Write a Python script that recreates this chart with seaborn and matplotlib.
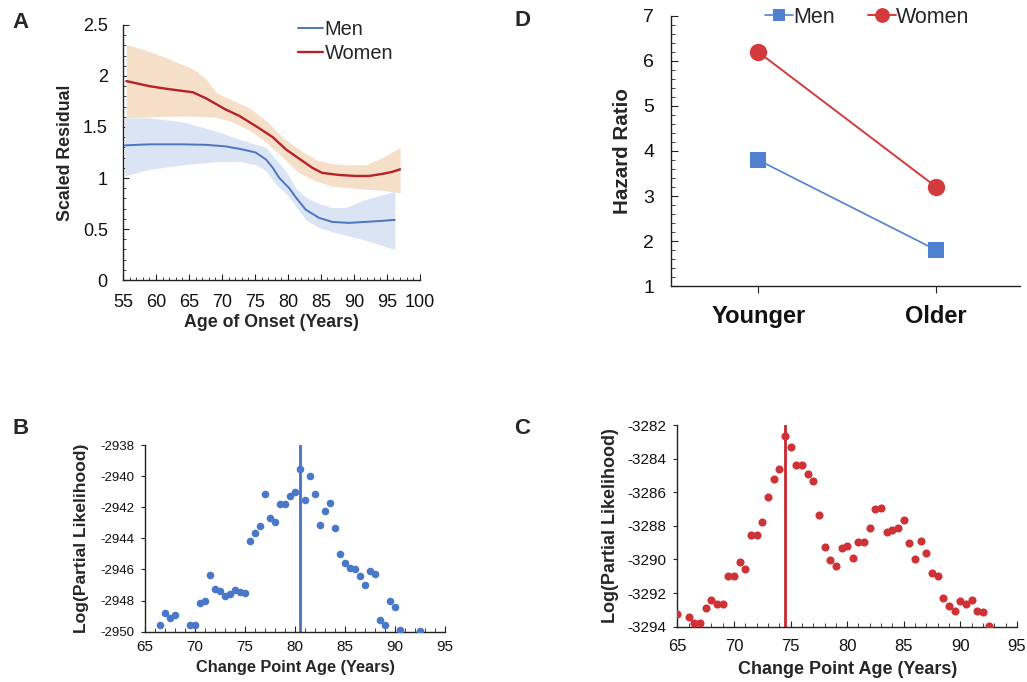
import numpy as np
import pandas as pd
import matplotlib
matplotlib.use("Agg")
import matplotlib.pyplot as plt
from matplotlib.ticker import MultipleLocator
import seaborn as sns

sns.set_style("white")
plt.rcParams['font.family'] = ['Liberation Sans', 'DejaVu Sans']
plt.rcParams['axes.unicode_minus'] = False

# panel A: scaled residual vs age of onset
women_age = [55.5, 59.0, 61.5, 65.6, 67.6, 70.6, 72.6, 75.1, 77.7, 79.7, 81.7, 83.7, 85.2, 87.7, 90.2, 92.3, 94.3, 95.8, 97.0]
women_res = [1.95, 1.90, 1.875, 1.84, 1.78, 1.67, 1.61, 1.51, 1.40, 1.28, 1.19, 1.10, 1.05, 1.03, 1.02, 1.02, 1.04, 1.06, 1.085]
women_hi_age = [55.5, 59.0, 61.5, 65.6, 67.6, 69.1, 71.6, 74.1, 76.7, 79.2, 81.7, 84.2, 86.7, 89.2, 91.8, 94.3, 97.0]
women_hi = [2.31, 2.24, 2.18, 2.07, 1.97, 1.84, 1.76, 1.69, 1.56, 1.40, 1.28, 1.18, 1.14, 1.13, 1.13, 1.20, 1.30]
women_lo_age = [55.5, 59.0, 64.1, 69.1, 72.6, 75.1, 77.7, 79.7, 81.7, 84.2, 86.7, 89.2, 91.8, 94.3, 97.0]
women_lo = [1.59, 1.60, 1.61, 1.595, 1.53, 1.43, 1.30, 1.17, 1.05, 0.97, 0.92, 0.905, 0.89, 0.88, 0.855]

men_age = [55.25, 59.0, 64.1, 67.6, 70.6, 73.1, 75.1, 76.7, 77.7, 78.7, 80.2, 81.2, 82.7, 84.7, 86.7, 89.2, 91.8, 94.3, 96.2]
men_res = [1.32, 1.33, 1.33, 1.325, 1.31, 1.28, 1.25, 1.18, 1.10, 1.00, 0.90, 0.81, 0.69, 0.61, 0.57, 0.56, 0.57, 0.58, 0.59]
men_hi_age = [55.25, 59.0, 64.1, 69.1, 72.6, 75.1, 76.7, 78.2, 79.7, 81.2, 82.7, 84.7, 86.7, 88.7, 91.8, 96.2]
men_hi = [1.59, 1.59, 1.55, 1.46, 1.38, 1.33, 1.30, 1.18, 1.07, 0.90, 0.81, 0.75, 0.71, 0.71, 0.79, 0.87]
men_lo_age = [55.25, 57.5, 61.5, 66.6, 71.6, 74.6, 76.7, 78.7, 80.7, 81.7, 83.7, 85.7, 88.7, 91.8, 96.2]
men_lo = [1.02, 1.07, 1.11, 1.15, 1.17, 1.15, 1.07, 0.89, 0.81, 0.64, 0.54, 0.49, 0.44, 0.39, 0.30]

# panel B: men change point likelihood
men_cp_age = [66.5, 67.0, 67.5, 68.0, 69.5, 70.0, 70.5, 71.0, 71.5, 72.0, 72.5, 73.0, 73.5, 74.0, 74.5, 75.0,
              75.5, 76.0, 76.5, 77.0, 77.5, 78.0, 78.5, 79.0, 79.5, 80.0, 80.5, 81.0, 81.5, 82.0, 82.5, 83.0,
              83.5, 84.0, 84.5, 85.0, 85.5, 86.0, 86.5, 87.0, 87.5, 88.0, 88.5, 89.0, 89.5, 90.0, 90.5, 92.5]
men_cp_ll = [-2949.57, -2948.8, -2949.12, -2948.95, -2949.55, -2949.55, -2948.16, -2948.05, -2946.38, -2947.24,
             -2947.39, -2947.69, -2947.58, -2947.34, -2947.45, -2947.54, -2944.17, -2943.64, -2943.19, -2941.13,
             -2942.71, -2942.97, -2941.81, -2941.81, -2941.3, -2941.0, -2939.57, -2941.56, -2939.97, -2941.17,
             -2943.12, -2942.22, -2941.75, -2943.34, -2945.03, -2945.61, -2945.89, -2946.0, -2946.44, -2946.98,
             -2946.08, -2946.27, -2949.23, -2949.55, -2948.03, -2948.39, -2949.91, -2949.96]
men_change_point = 80.5

# panel C: women change point likelihood
women_cp_age = [65.0, 66.0, 66.5, 67.0, 67.5, 68.0, 68.5, 69.0, 69.5, 70.0, 70.5, 71.0, 71.5, 72.0, 72.5, 73.0,
                73.5, 74.0, 74.5, 75.0, 75.5, 76.0, 76.5, 77.0, 77.5, 78.0, 78.5, 79.0, 79.5, 80.0, 80.5, 81.0,
                81.5, 82.0, 82.5, 83.0, 83.5, 84.0, 84.5, 85.0, 85.5, 86.0, 86.5, 87.0, 87.5, 88.0, 88.5, 89.0,
                89.5, 90.0, 90.5, 91.0, 91.5, 92.0, 92.5]
women_cp_ll = [-3293.25, -3293.44, -3293.8, -3293.8, -3292.87, -3292.39, -3292.67, -3292.67, -3291.0, -3291.0,
               -3290.13, -3290.55, -3288.54, -3288.54, -3287.79, -3286.3, -3285.21, -3284.62, -3282.63, -3283.31,
               -3284.4, -3284.4, -3284.93, -3285.35, -3287.35, -3289.24, -3290.05, -3290.37, -3289.34, -3289.2,
               -3289.9, -3288.98, -3288.96, -3288.15, -3286.98, -3286.96, -3288.37, -3288.25, -3288.13, -3287.67,
               -3289.04, -3290.0, -3288.88, -3289.62, -3290.83, -3291.0, -3292.31, -3292.77, -3293.05, -3292.47,
               -3292.67, -3292.43, -3293.05, -3293.15, -3293.94]
women_change_point = 74.5

# panel D: hazard ratios
age_groups = ['Younger', 'Older']
men_hr = [3.8, 1.8]
women_hr = [6.2, 3.2]

blue = '#4a76c0'
red = '#b8202a'

fig = plt.figure(figsize=(10.27, 6.82), dpi=100)
axA = fig.add_axes([0.1198, 0.5894, 0.289, 0.374])
axD = fig.add_axes([0.6533, 0.5806, 0.3398, 0.396])
axB = fig.add_axes([0.1412, 0.0738, 0.2921, 0.2737])
axC = fig.add_axes([0.6595, 0.0811, 0.3308, 0.2957])

for ax in [axA, axD, axB, axC]:
    sns.despine(ax=ax)
    ax.spines['left'].set_color('#222222')
    ax.spines['bottom'].set_color('#222222')
    ax.spines['left'].set_linewidth(1.0)
    ax.spines['bottom'].set_linewidth(1.0)

# ---- A ----
axA.fill_between(women_hi_age, women_hi, np.interp(women_hi_age, women_lo_age, women_lo),
                 color='#f5dfc9', lw=0, zorder=1)
axA.fill_between(men_hi_age, men_hi, np.interp(men_hi_age, men_lo_age, men_lo),
                 color='#dbe4f4', lw=0, zorder=1)
sns.lineplot(x=men_age, y=men_res, ax=axA, color=blue, lw=1.4, label='Men', zorder=3)
sns.lineplot(x=women_age, y=women_res, ax=axA, color=red, lw=1.7, label='Women', zorder=3)
axA.set_xlim(55, 100)
axA.set_ylim(0, 2.5)
axA.xaxis.set_major_locator(MultipleLocator(5))
axA.xaxis.set_minor_locator(MultipleLocator(1))
axA.yaxis.set_major_locator(MultipleLocator(0.5))
axA.yaxis.set_minor_locator(MultipleLocator(0.1))
axA.set_yticks([0, 0.5, 1, 1.5, 2, 2.5])
axA.set_yticklabels(['0', '0.5', '1', '1.5', '2', '2.5'])
axA.tick_params(which='both', direction='in', colors='#222222', labelcolor='#111111', labelsize=13, left=True, bottom=True)
axA.tick_params(which='major', length=4)
axA.tick_params(which='minor', length=2.5)
axA.tick_params(axis='x', which='major', pad=10)
axA.tick_params(axis='y', which='major', pad=11)
axA.set_xlabel('Age of Onset (Years)', fontsize=12.8, fontweight='bold', labelpad=2)
axA.set_ylabel('Scaled Residual', fontsize=12.8, fontweight='bold', labelpad=6)
axA.legend(loc='upper left', bbox_to_anchor=(0.589, 1.02), frameon=False, fontsize=14.4,
           borderaxespad=0, borderpad=0, handlelength=1.25, handletextpad=0.1, labelspacing=0.28)

# ---- D ----
sns.lineplot(x=age_groups, y=men_hr, ax=axD, color='#4f81d0', lw=1.2, marker='s', markersize=11,
             markeredgewidth=0, label='Men', sort=False)
sns.lineplot(x=age_groups, y=women_hr, ax=axD, color='#d23a3d', lw=1.4, marker='o', markersize=12.5,
             markeredgewidth=0, label='Women', sort=False)
axD.set_xlim(-0.49, 1.47)
axD.set_ylim(1, 7)
axD.yaxis.set_major_locator(MultipleLocator(1))
axD.yaxis.set_minor_locator(MultipleLocator(0.2))
axD.tick_params(axis='y', which='both', direction='in', left=True, colors='#222222', labelcolor='#111111', labelsize=14)
axD.tick_params(axis='y', which='major', length=5, pad=12)
axD.tick_params(axis='y', which='minor', length=3)
axD.tick_params(axis='x', direction='out', bottom=True, length=5, colors='#222222', labelcolor='#111111', pad=9)
for lbl in axD.get_xticklabels():
    lbl.set_fontsize(17)
    lbl.set_fontweight('bold')
axD.set_xlabel('')
axD.set_ylabel('Hazard Ratio', fontsize=14.8, fontweight='bold', labelpad=8)
axD.legend(loc='upper left', bbox_to_anchor=(0.269, 1.035), ncol=2, frameon=False, fontsize=15.5,
           borderaxespad=0, borderpad=0, handlelength=1.3, handletextpad=0.0, columnspacing=1.55,
           markerscale=0.85)

# ---- B ----
sns.scatterplot(x=men_cp_age, y=men_cp_ll, ax=axB, color='#4a78c8', s=30, linewidth=0, zorder=3)
axB.axvline(men_change_point, color='#4a70c0', lw=2, zorder=2)
axB.set_xlim(65, 95)
axB.set_ylim(-2950, -2938)
axB.xaxis.set_major_locator(MultipleLocator(5))
axB.xaxis.set_minor_locator(MultipleLocator(1))
axB.yaxis.set_major_locator(MultipleLocator(2))
axB.tick_params(axis='x', which='both', direction='in', bottom=True, colors='#222222', labelcolor='#111111', labelsize=11)
axB.tick_params(axis='x', which='major', length=4, pad=6)
axB.tick_params(axis='x', which='minor', length=3)
axB.tick_params(axis='y', direction='out', left=True, length=3, colors='#222222', labelcolor='#111111', labelsize=9.5, pad=5)
axB.set_xlabel('Change Point Age (Years)', fontsize=11.8, fontweight='bold', labelpad=4)
axB.set_ylabel('Log(Partial Likelihood)', fontsize=12.6, fontweight='bold', labelpad=8)

# ---- C ----
sns.scatterplot(x=women_cp_age, y=women_cp_ll, ax=axC, color='#cf3236', s=34, linewidth=0, zorder=3)
axC.axvline(women_change_point, color='#c8282e', lw=2, zorder=2)
axC.set_xlim(65, 95)
axC.set_ylim(-3294, -3282)
axC.xaxis.set_major_locator(MultipleLocator(5))
axC.xaxis.set_minor_locator(MultipleLocator(1))
axC.yaxis.set_major_locator(MultipleLocator(2))
axC.tick_params(axis='x', which='both', direction='in', bottom=True, colors='#222222', labelcolor='#111111', labelsize=12)
axC.tick_params(axis='x', which='major', length=4, pad=9)
axC.tick_params(axis='x', which='minor', length=3)
axC.tick_params(axis='y', direction='out', left=True, length=3, colors='#222222', labelcolor='#111111', labelsize=11, pad=5)
axC.set_xlabel('Change Point Age (Years)', fontsize=13, fontweight='bold', labelpad=5)
axC.set_ylabel('Log(Partial Likelihood)', fontsize=13, fontweight='bold', labelpad=6)

# panel letters
for letter, (px, py) in {'A': (12, 22), 'D': (514, 20), 'B': (12, 428), 'C': (514, 428)}.items():
    fig.text(px / 1027, 1 - py / 682, letter, fontsize=16, fontweight='bold', va='center', ha='left')

fig.savefig('out.png', dpi=100)
